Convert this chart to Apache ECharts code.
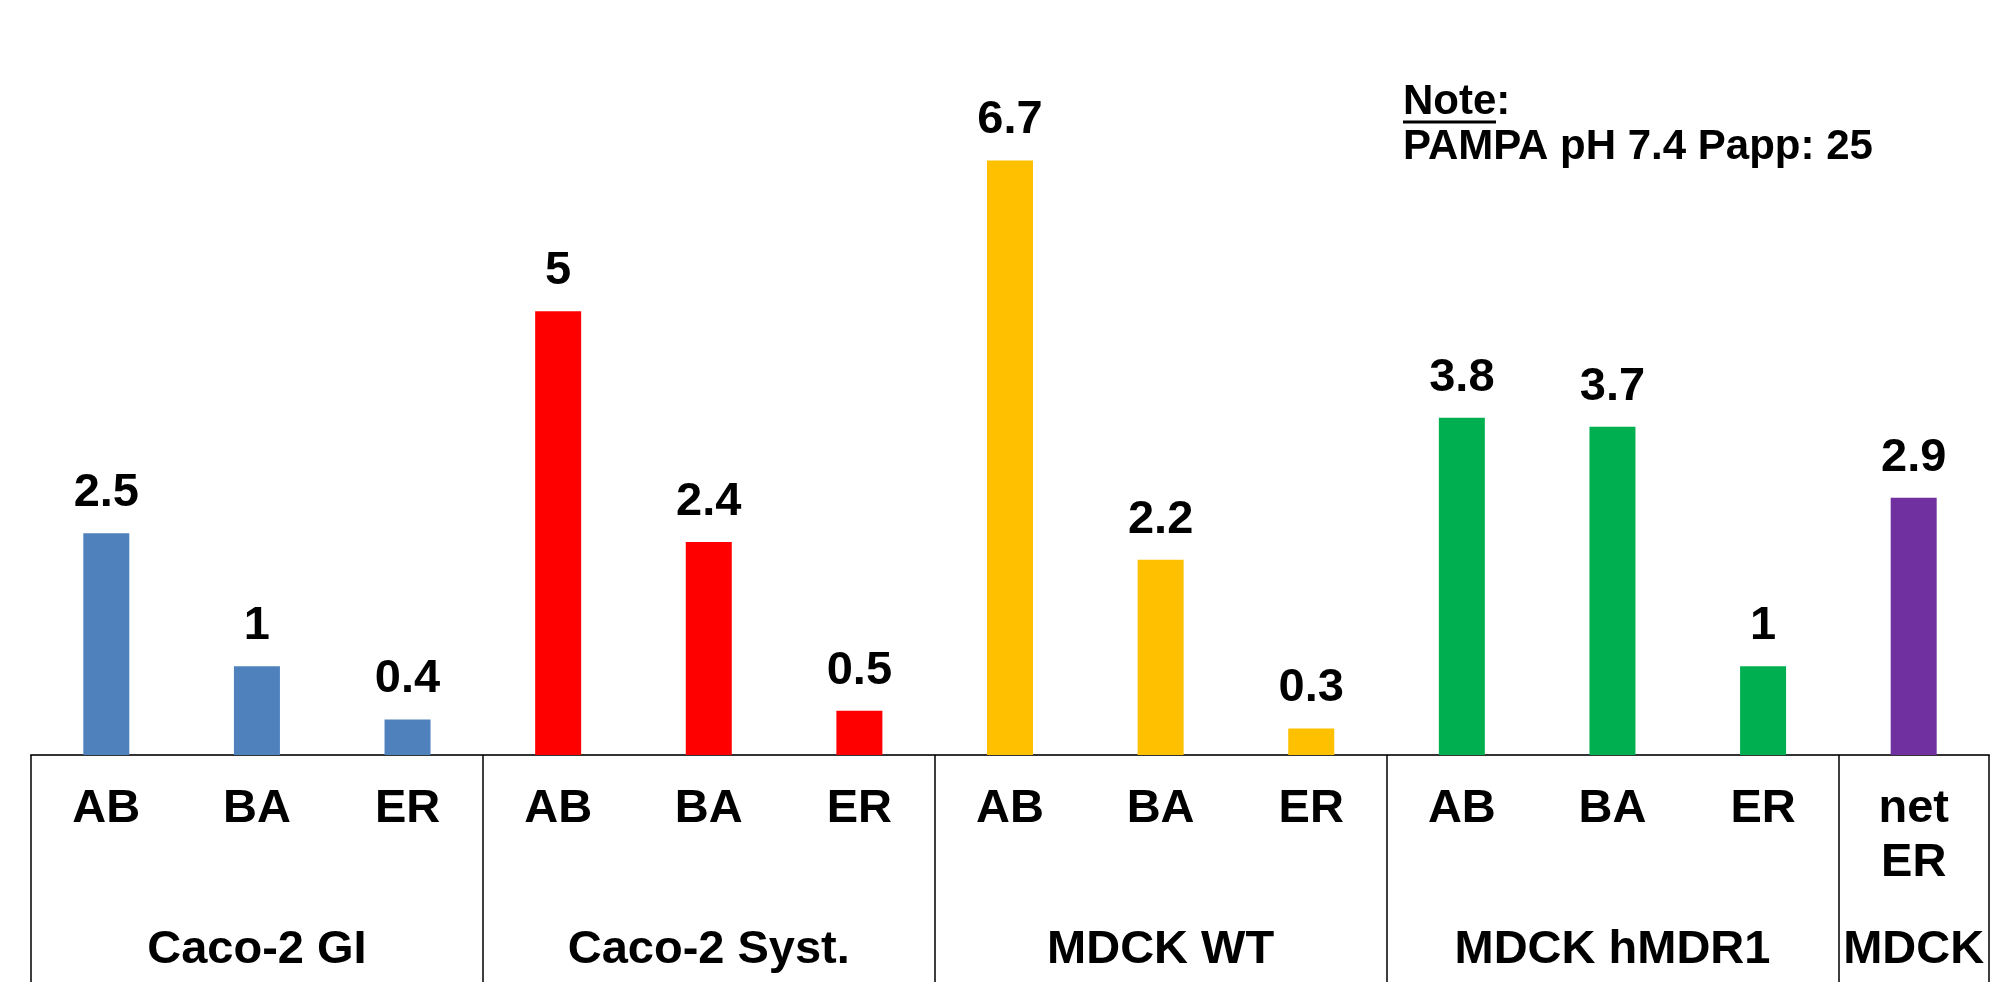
<!DOCTYPE html>
<html>
<head>
<meta charset="utf-8">
<style>
  html, body { margin: 0; padding: 0; background: #ffffff; }
  #chart { width: 2004px; height: 994px; }
</style>
<script src="https://cdn.jsdelivr.net/npm/echarts@6/dist/echarts.min.js"></script>
</head>
<body>
<div id="chart"></div>
<script>
// Permeability (AB, BA) and efflux ratio (ER) per cell system
const categories = ['AB', 'BA', 'ER', 'AB', 'BA', 'ER', 'AB', 'BA', 'ER', 'AB', 'BA', 'ER', 'net\nER'];
const values = [2.5, 1, 0.4, 5, 2.4, 0.5, 6.7, 2.2, 0.3, 3.8, 3.7, 1, 2.9];
const groupNames = ['Caco-2 GI', 'Caco-2 Syst.', 'MDCK WT', 'MDCK hMDR1', 'MDCK'];
const groupSizes = [3, 3, 3, 3, 1];
const groupColors = ['#4F81BD', '#FF0000', '#FFC000', '#00B050', '#7030A0'];
const noteTitle = 'Note:';
const noteText = 'PAMPA pH 7.4 Papp: 25';

const FONT = '"Liberation Sans", Arial, sans-serif';
const LABEL_SIZE = 47;

// expand per-group settings onto the 13 categories
const barColors = [];
const groupAxisLabels = [];
const groupStarts = [];
let pos = 0;
groupSizes.forEach(function (n, g) {
  groupStarts.push(pos);
  for (let i = 0; i < n; i++) {
    barColors.push(groupColors[g]);
    groupAxisLabels.push(i === Math.floor((n - 1) / 2) ? groupNames[g] : '');
  }
  pos += n;
});

const chart = echarts.init(document.getElementById('chart'), null, { renderer: 'canvas' });

chart.setOption({
  backgroundColor: '#ffffff',
  animation: false,
  grid: { left: 31, right: 15, top: 45, bottom: 239, containLabel: false },
  xAxis: [
    {
      type: 'category',
      data: categories,
      position: 'bottom',
      axisLine: { show: true, lineStyle: { color: '#333333', width: 2 } },
      // long ticks at group boundaries form the table dividers
      axisTick: {
        show: true,
        alignWithLabel: false,
        length: 227,
        interval: function (index) { return groupStarts.indexOf(index) >= 0; },
        lineStyle: { color: '#000000', width: 1.5 }
      },
      axisLabel: {
        interval: 0,
        margin: 27,
        color: '#000000',
        fontFamily: FONT,
        fontWeight: 'bold',
        fontSize: LABEL_SIZE,
        lineHeight: 54
      },
      splitLine: { show: false }
    },
    {
      type: 'category',
      data: groupAxisLabels,
      position: 'bottom',
      axisLine: { show: false },
      axisTick: { show: false },
      axisLabel: {
        interval: 0,
        margin: 168,
        color: '#000000',
        fontFamily: FONT,
        fontWeight: 'bold',
        fontSize: LABEL_SIZE,
        lineHeight: 54
      },
      splitLine: { show: false }
    }
  ],
  yAxis: {
    type: 'value',
    min: 0,
    max: 8,
    show: false,
    splitLine: { show: false }
  },
  series: [
    {
      type: 'bar',
      xAxisIndex: 0,
      barWidth: 46,
      data: values.map(function (v, i) {
        return { value: v, itemStyle: { color: barColors[i] } };
      }),
      label: {
        show: true,
        position: 'top',
        distance: 14,
        color: '#000000',
        fontFamily: FONT,
        fontWeight: 'bold',
        fontSize: LABEL_SIZE,
        lineHeight: 52
      }
    }
  ],
  graphic: [
    {
      type: 'text',
      left: 1403,
      top: 81,
      style: {
        text: noteTitle,
        fill: '#000000',
        font: 'bold 42px ' + FONT
      }
    },
    {
      type: 'line',
      shape: { x1: 1403, y1: 122, x2: 1496, y2: 122 },
      style: { stroke: '#000000', lineWidth: 3 }
    },
    {
      type: 'text',
      left: 1403,
      top: 126,
      style: {
        text: noteText,
        fill: '#000000',
        font: 'bold 42px ' + FONT
      }
    }
  ]
});
</script>
</body>
</html>
